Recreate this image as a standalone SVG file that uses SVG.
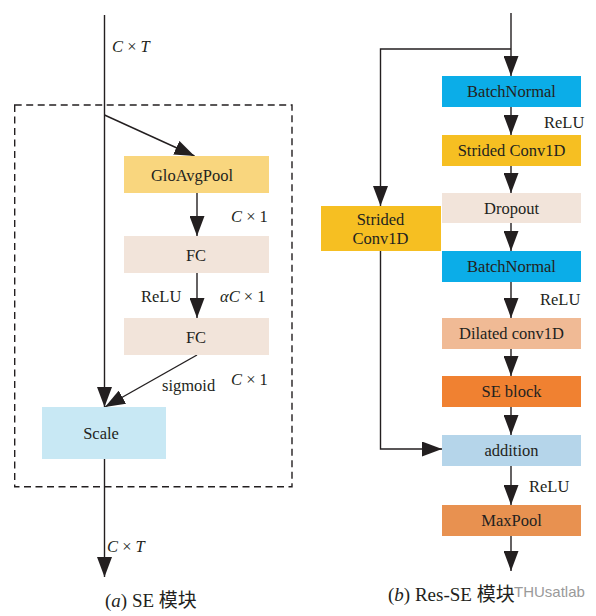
<svg xmlns="http://www.w3.org/2000/svg" width="596" height="616" viewBox="0 0 596 616">
<style>
text{font-family:"Liberation Serif","Noto Sans CJK SC",serif;fill:#231F20;font-size:16.5px}
.c{text-anchor:middle}
.i{font-style:italic}
.cap{font-size:19px}
.ln{fill:none;stroke:#231F20;stroke-width:1.4}
.ar{marker-end:url(#ah)}
</style>
<defs>
<marker id="ah" markerUnits="userSpaceOnUse" markerWidth="21" markerHeight="15" refX="20" refY="7.5" orient="auto">
<path d="M0,0 L20,7.5 L0,15 z" fill="#231F20"/>
</marker>
</defs>
<rect x="0" y="0" width="596" height="616" fill="#fff"/>
<rect x="14.7" y="105" width="277.3" height="381.7" fill="none" stroke="#231F20" stroke-width="1.4" stroke-dasharray="7,4.5"/>
<g id="connectors">
<path class="ln ar" d="M104.5,15 V407"/>
<path class="ln ar" d="M104.5,115 L194.5,156"/>
<path class="ln ar" d="M197,193 V236"/>
<path class="ln ar" d="M197,273 V318"/>
<path class="ln ar" d="M197,355 L105,407"/>
<path class="ln ar" d="M104.5,459 V577"/>
<path class="ln ar" d="M511,13 V76"/>
<path class="ln ar" d="M511,49 H380.5 V206"/>
<path class="ln ar" d="M511,107 V135"/>
<path class="ln ar" d="M511,166 V193"/>
<path class="ln ar" d="M511,223 V251"/>
<path class="ln ar" d="M511,282 V318"/>
<path class="ln ar" d="M511,349 V376"/>
<path class="ln ar" d="M511,407 V435"/>
<path class="ln ar" d="M511,466 V505"/>
<path class="ln ar" d="M511,536 V571"/>
<path class="ln ar" d="M380.5,251 V449 H442"/>
</g>
<g id="gloavgpool"><rect x="124" y="156" width="145" height="37" fill="#F9D67E"/><text class="c" x="192" y="180.5">GloAvgPool</text></g>
<g id="fc1"><rect x="124" y="236" width="145" height="37" fill="#F2E4DA"/><text class="c" x="196" y="260.5">FC</text></g>
<g id="fc2"><rect x="124" y="318" width="145" height="37" fill="#F2E4DA"/><text class="c" x="196" y="342.5">FC</text></g>
<g id="scale"><rect x="42" y="407" width="124" height="52" fill="#C8E8F4"/><text class="c" x="101" y="439">Scale</text></g>
<g id="labels-a">
<text x="112" y="52"><tspan class="i">C</tspan> × <tspan class="i">T</tspan></text>
<text x="231" y="222"><tspan class="i">C</tspan> × 1</text>
<text x="141" y="302">ReLU</text>
<text x="220" y="302"><tspan class="i">αC</tspan> × 1</text>
<text x="162" y="391">sigmoid</text>
<text x="231" y="385"><tspan class="i">C</tspan> × 1</text>
<text x="107" y="552"><tspan class="i">C</tspan> × <tspan class="i">T</tspan></text>
<text class="cap" x="105" y="607">(<tspan class="i">a</tspan>) SE 模块</text>
</g>
<g id="bn1"><rect x="442" y="76" width="139" height="31" fill="#0BADE8"/><text class="c" x="511.5" y="97">BatchNormal</text></g>
<g id="sconv1"><rect x="442" y="135" width="139" height="31" fill="#F6BF22"/><text class="c" x="511.5" y="156">Strided Conv1D</text></g>
<g id="dropout"><rect x="442" y="193" width="139" height="30" fill="#F2E4DA"/><text class="c" x="511.5" y="214">Dropout</text></g>
<g id="bn2"><rect x="442" y="251" width="139" height="31" fill="#0BADE8"/><text class="c" x="511.5" y="272">BatchNormal</text></g>
<g id="dilated"><rect x="442" y="318" width="139" height="31" fill="#F0BA95"/><text class="c" x="511.5" y="339">Dilated conv1D</text></g>
<g id="seblock"><rect x="442" y="376" width="139" height="31" fill="#F08131"/><text class="c" x="511.5" y="397">SE block</text></g>
<g id="addition"><rect x="442" y="435" width="139" height="31" fill="#B5D5EA"/><text class="c" x="511.5" y="456">addition</text></g>
<g id="maxpool"><rect x="442" y="505" width="139" height="31" fill="#E89150"/><text class="c" x="511.5" y="526">MaxPool</text></g>
<g id="sconv2"><rect x="321" y="206" width="120" height="45" fill="#F6BF22"/><text class="c" x="380.5" y="225">Strided</text><text class="c" x="380.5" y="244">Conv1D</text></g>
<g id="labels-b">
<text x="544" y="128">ReLU</text>
<text x="540" y="305">ReLU</text>
<text x="529" y="492">ReLU</text>
<text class="cap" x="388" y="601">(<tspan class="i">b</tspan>) Res-SE 模块</text>
<text x="514" y="597" style="font-family:'Liberation Sans',sans-serif;font-size:15px;fill:#9a9a9a;stroke:#fff;stroke-width:0.6;paint-order:stroke">THUsatlab</text>
</g>
</svg>
